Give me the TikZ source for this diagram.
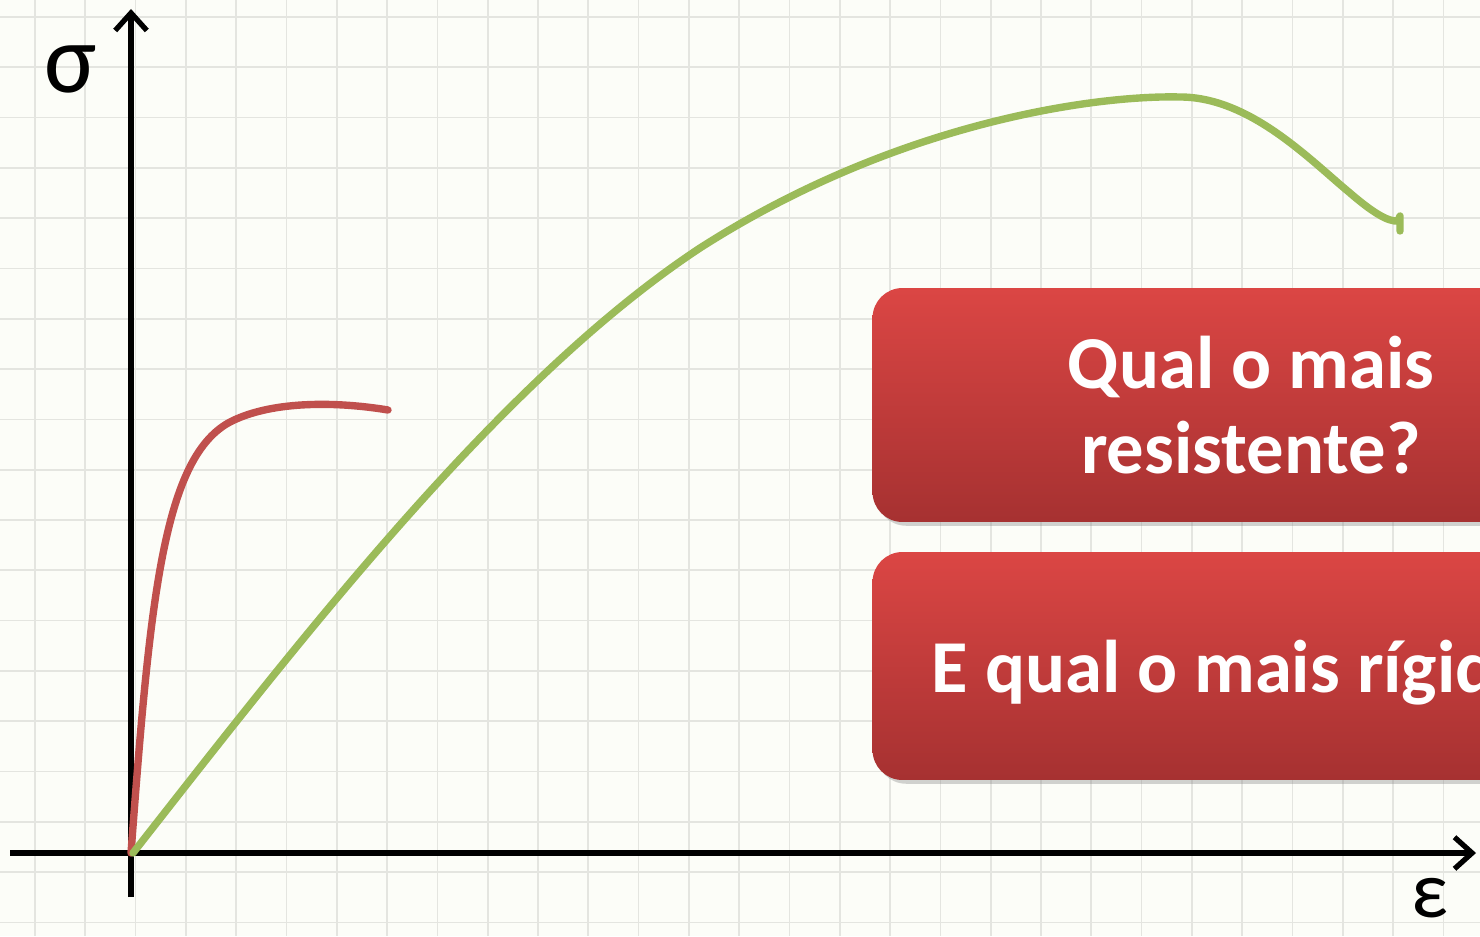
\documentclass[tikz,border=0pt]{standalone}
\usepackage{fontspec}
\newfontfamily\carlito{Carlito}
\usetikzlibrary{arrows.meta,shadows}
\definecolor{paper}{RGB}{252,253,248}
\definecolor{gridgray}{RGB}{228,229,224}
\definecolor{redcurve}{RGB}{192,80,77}
\definecolor{greencurve}{RGB}{155,187,89}
\definecolor{boxtop}{RGB}{219,70,68}
\definecolor{boxbottom}{RGB}{166,49,49}
\tikzset{
  gridline/.style={gridgray, line width=1pt},
  axis/.style={line width=3.2pt, -{Straight Barb[length=10pt, width=18pt, line width=3pt]}},
  curve/.style={line width=4.2pt, line cap=round, line join=round},
  question/.style={rounded corners=17pt, top color=boxtop, bottom color=boxbottom,
    minimum width=15.14cm, minimum height=4.68cm, drop shadow={opacity=0.35},
    text=white, align=center, font=\carlito\bfseries\fontsize{42.5}{48.4}\selectfont},
  greek/.style={font=\carlito\fontsize{56}{60}\selectfont}
}
\begin{document}
\begin{tikzpicture}[x=0.02cm, y=-0.02cm]
  \clip (0, 0) rectangle (1480, 936);
  \fill[paper] (0, 0) rectangle (1480, 936);
  % grid paper
  \foreach \gx in {0,...,29}
    \draw[gridline] ({35+50.3*\gx}, 0) -- ({35+50.3*\gx}, 936);
  \foreach \gy in {0,...,18}
    \draw[gridline] (0, {17+50.3*\gy}) -- (1480, {17+50.3*\gy});
  % axes
  \coordinate (O) at (131, 853);
  \coordinate (xstart) at (10, 853);
  \coordinate (xend) at (1476, 853);
  \coordinate (ystart) at (131, 897);
  \coordinate (yend) at (131, 9);
  \draw[axis] (xstart) -- (xend);
  \draw[axis] (ystart) -- (yend);
  \node[greek] (sigma) at (71, 69) {σ};
  \node[greek, font=\carlito\fontsize{46}{50}\selectfont] (epsilon) at (1430, 898) {ε};
  % curves
  \draw[curve, redcurve] (O) .. controls (150, 600) and (163, 455) .. (232, 421)
    .. controls (275, 400) and (340, 402) .. (388, 410);
  \draw[curve, greencurve] (133, 853) .. controls (300, 640) and (500, 380) .. (700, 248)
    .. controls (900, 120) and (1100, 95) .. (1180, 97)
    .. controls (1250, 97) and (1310, 160) .. (1350, 193)
    .. controls (1372, 212) and (1388, 222) .. (1398, 221)
    -- (1400, 216) -- (1400, 231);
  % questions
  \node[question] (resist) at (1251, 405) {Qual o mais\\resistente?};
  \node[question, minimum height=4.56cm, text depth=0pt] (rigid) at (1251, 666) {E qual o mais rígido?};
\end{tikzpicture}
\end{document}
